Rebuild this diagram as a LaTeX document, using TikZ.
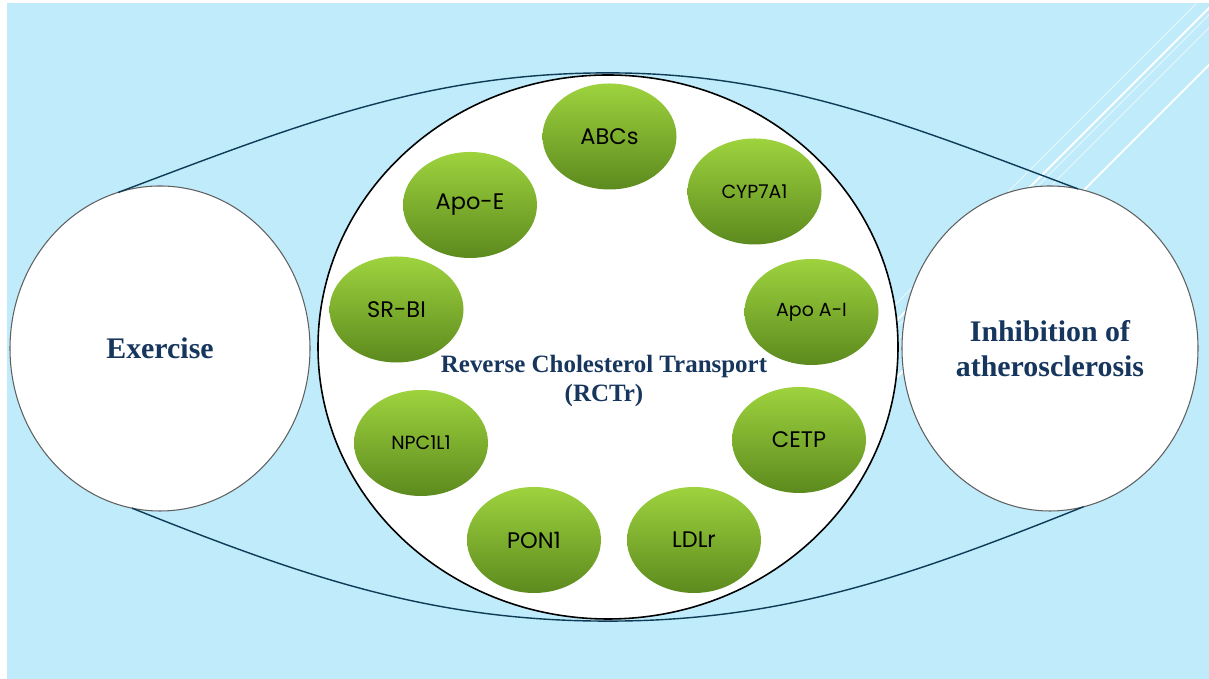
\documentclass[tikz,border=0pt]{standalone}
\usepackage{fontspec}
\setmainfont{Liberation Serif}
\newfontfamily\gothic{Poppins}
\usetikzlibrary{shapes.geometric}

\definecolor{skyblue}{HTML}{BFEBFA}
\definecolor{navy}{HTML}{17365D}
\definecolor{linkblue}{HTML}{0F3B57}
\definecolor{leaftop}{HTML}{9ED33E}
\definecolor{leafbot}{HTML}{5C8A1E}
\definecolor{rimgray}{HTML}{606060}

\tikzset{
  sidecirc/.style={ellipse, draw=rimgray, line width=0.6pt, fill=white,
    minimum width=6cm, minimum height=6.5cm, inner sep=0pt, outer sep=0pt,
    align=center, text=navy, font=\bfseries\fontsize{17}{20}\selectfont},
  hub/.style={ellipse, draw=black, line width=0.9pt, fill=white,
    minimum width=11.6cm, minimum height=10.88cm, inner sep=0pt, outer sep=0pt},
  leaf/.style={ellipse, top color=leaftop, bottom color=leafbot, draw=none,
    minimum width=2.68cm, minimum height=2.12cm, inner sep=0pt,
    font=\gothic\fontsize{12.8}{14}\selectfont},
  leafsm/.style={leaf, font=\gothic\fontsize{10.8}{12}\selectfont},
  link/.style={draw=linkblue, line width=0.8pt},
  glint/.style={white, line width=1.2pt},
  glintthin/.style={white, opacity=0.6, line width=0.6pt},
}

\begin{document}
\begin{tikzpicture}
    \useasboundingbox (0,0) rectangle (24.18,13.58);
    \fill[white] (0,0) rectangle (24.18,13.58);
    \fill[skyblue] (0.14,0) rectangle (24.18,13.52);

    % light streaks in the corner
    \begin{scope}
        \clip (0.14,0) rectangle (24.18,13.52);
        \draw[glintthin] (17.5,7.08) -- ++(8,8);
        \draw[glint] (17.5,6.74) -- ++(8,8);
        \draw[glintthin] (17.5,6.6) -- ++(8,8);
        \draw[glintthin] (17.5,6.34) -- ++(8,8);
        \draw[glint] (17.5,5.6) -- ++(8,8);
    \end{scope}

    \node[sidecirc] (ex) at (3.2,6.61) {Exercise};
    \node[sidecirc, minimum width=5.92cm] (inh) at (21.0,6.61) {Inhibition of\\atherosclerosis};
    \node[hub] (rct) at (12.16,6.64) {};

    \draw[link] (ex.105) .. controls +(20.7:3.85) and +(180:3.6) .. ([yshift=1.2pt]rct.north)
        .. controls +(0:3.45) and +(159.4:3.69) .. (inh.80);
    \draw[link] (ex.260) .. controls +(-21.8:3.77) and +(180:3.5) .. ([yshift=-1.2pt]rct.south)
        .. controls +(0:3.5) and +(201.8:3.77) .. (inh.282);

    \node[leaf] (abc) at (12.19,10.85) {ABCs};
    \node[leafsm] (cyp) at (15.09,9.75) {CYP7A1};
    \node[leafsm] (apoa) at (16.23,7.34) {Apo A-I};
    \node[leaf] (cetp) at (15.98,4.78) {CETP};
    \node[leaf] (ldl) at (13.88,2.78) {LDLr};
    \node[leaf] (pon) at (10.68,2.78) {PON1};
    \node[leafsm] (npc) at (8.42,4.72) {NPC1L1};
    \node[leaf] (srb) at (7.93,7.39) {SR-BI};
    \node[leaf] (apoe) at (9.4,9.48) {Apo-E};

    \node[text=navy, align=center, font=\bfseries\fontsize{14.2}{17}\selectfont] (title) at (12.08,5.96)
        {Reverse Cholesterol Transport\\(RCTr)};
\end{tikzpicture}
\end{document}
